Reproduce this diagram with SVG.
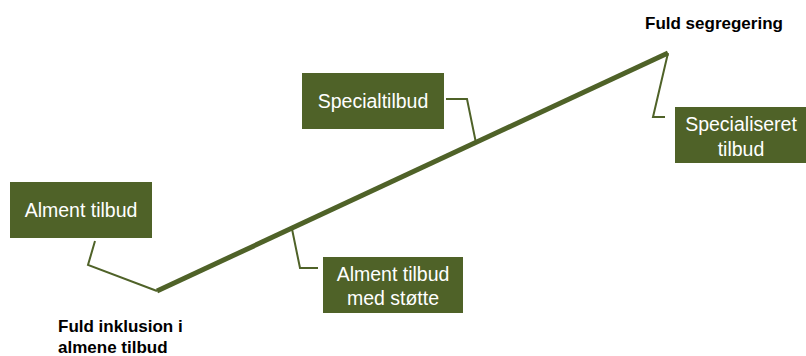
<svg xmlns="http://www.w3.org/2000/svg" width="806" height="356" viewBox="0 0 806 356">
<style>
.box{fill:#4f6228}
.bt{fill:#ffffff;font-family:"Liberation Sans",Arial,sans-serif;font-size:19.5px;text-anchor:middle}
.lbl{fill:#000;font-family:"Liberation Sans",Arial,sans-serif;font-size:17px;font-weight:bold}
.con{fill:none;stroke:#4f6228;stroke-width:2}
.main{fill:none;stroke:#4f6228;stroke-width:5}
</style>
<rect width="806" height="356" fill="#fff"/>
<g id="connectors">
<path class="main" d="M157,291 L668,53"/>
<path class="con" d="M95,241 L88,265 L157,291"/>
<path class="con" d="M446,99 L467,99 L476,143"/>
<path class="con" d="M292,229 L300,268 L318,268"/>
<path class="con" d="M668,53 L653,117 L665,117"/>
</g>
<g id="alment-tilbud">
<rect class="box" x="10" y="182" width="142" height="56"/>
<text class="bt" x="81" y="217">Alment tilbud</text>
</g>
<g id="specialtilbud">
<rect class="box" x="302" y="73" width="142" height="56"/>
<text class="bt" x="373" y="108">Specialtilbud</text>
</g>
<g id="alment-tilbud-med-stotte">
<rect class="box" x="323" y="257" width="140" height="56"/>
<text class="bt" x="393" y="281">Alment tilbud</text>
<text class="bt" x="393" y="305">med støtte</text>
</g>
<g id="specialiseret-tilbud">
<rect class="box" x="675" y="107" width="131" height="56"/>
<text class="bt" x="741" y="131">Specialiseret</text>
<text class="bt" x="741" y="156">tilbud</text>
</g>
<g id="fuld-segregering">
<text class="lbl" x="645" y="29">Fuld segregering</text>
</g>
<g id="fuld-inklusion">
<text class="lbl" x="58" y="332">Fuld inklusion i</text>
<text class="lbl" x="58" y="353">almene tilbud</text>
</g>
</svg>
